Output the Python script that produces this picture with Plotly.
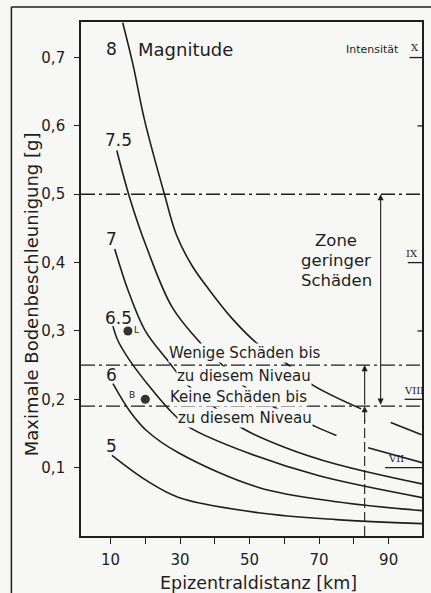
import plotly.graph_objects as go

# ---------------- data ----------------
magnitudes = ["8", "7.5", "7", "6.5", "6", "5"]

m8_x  = [13.5, 16.4, 19.8, 25.5, 29.0, 33.5, 38.4, 45.0, 52.1, 60.7, 67.5, 82.1, None, 90.6, 99.5]
m8_y  = [0.751, 0.691, 0.608, 0.500, 0.440, 0.395, 0.360, 0.318, 0.282, 0.252, 0.223, 0.186, None, 0.166, 0.148]

m75_x = [11.8, 15.5, 20.4, 27.8, 36.1, 41.8, 47.5, 55.5, 69.0, 75.0, None, 84.1, 99.8]
m75_y = [0.564, 0.495, 0.422, 0.334, 0.281, 0.252, 0.223, 0.193, 0.160, 0.147, None, 0.129, 0.107]

m7_x  = [11.2, 15.0, 20.0, 26.4, 31.8, 39.2, 47.8, 60.0, 75.0, 99.8]
m7_y  = [0.420, 0.360, 0.300, 0.257, 0.223, 0.191, 0.158, 0.130, 0.105, 0.076]

m65_x = [10.7, 12.1, 15.5, 21.8, 27.8, 32.7, 49.8, 70.0, 99.8]
m65_y = [0.307, 0.286, 0.257, 0.215, 0.180, 0.159, 0.121, 0.088, 0.056]

m6_x  = [10.7, 15.5, 20.4, 29.8, 52.6, 75.0, 99.8]
m6_y  = [0.223, 0.183, 0.154, 0.121, 0.071, 0.050, 0.037]

m5_x  = [10.4, 20.4, 29.8, 52.6, 75.0, 99.8]
m5_y  = [0.118, 0.081, 0.056, 0.034, 0.024, 0.018]

curves_x = [m8_x, m75_x, m7_x, m65_x, m6_x, m5_x]
curves_y = [m8_y, m75_y, m7_y, m65_y, m6_y, m5_y]

# damage levels [g]
level_zone_top = 0.50
level_few = 0.25
level_none = 0.19

# observation points
point_names = ["L", "B"]
point_x = [15.0, 20.0]
point_y = [0.30, 0.20]

# intensity scale (right side)
intensity_labels = ["X", "IX", "VIII", "VII"]
intensity_levels = [0.70, 0.40, 0.20, 0.10]
intensity_minor = [0.60, 0.30]

x_tickvals = [10, 20, 30, 40, 50, 60, 70, 80, 90]
x_ticktext = ["10", "", "30", "", "50", "", "70", "", "90"]
y_tickvals = [0.1, 0.2, 0.3, 0.4, 0.5, 0.6, 0.7]
y_ticktext = ["0,1", "0,2", "0,3", "0,4", "0,5", "0,6", "0,7"]

# ---------------- figure ----------------
BG = "#f7f7f5"
INK = "#1e1e1e"
FONT = "DejaVu Sans"

fig = go.Figure()

for cx, cy in zip(curves_x, curves_y):
    fig.add_trace(go.Scatter(x=cx, y=cy, mode="lines", line=dict(color=INK, width=1.6, shape="spline", smoothing=1.0),
                             connectgaps=False, hoverinfo="skip", showlegend=False))

fig.add_trace(go.Scatter(x=point_x, y=point_y, mode="markers",
                         marker=dict(color="#333333", size=9), showlegend=False, hoverinfo="skip"))

# dash-dot horizontal levels
for lv in [level_zone_top, level_few, level_none]:
    fig.add_shape(type="line", xref="paper", yref="y", x0=0, x1=1, y0=lv, y1=lv,
                  line=dict(color=INK, width=1.4, dash="14px,4px,3px,4px"))

XA = 87.7   # zone arrow
XB = 83.1   # small arrow / dashed line
# dashed vertical line below level_none
fig.add_shape(type="line", xref="x", yref="y", x0=XB, x1=XB, y0=0, y1=level_none - 0.02,
              line=dict(color=INK, width=1.1, dash="10px,4px"))

arrows = [
    (XA, level_zone_top, XA, level_none, "end+start"),
    (XB, level_few, XB, level_none, "end"),
    (XB, level_none, XB, level_none - 0.025, "end"),
]
for x1, y1, x0, y0, side in arrows:
    fig.add_annotation(x=x1, y=y1, ax=x0, ay=y0, xref="x", yref="y", axref="x", ayref="y",
                       text="", showarrow=True, arrowhead=2, arrowsize=1.1, arrowwidth=1.1,
                       arrowcolor=INK, arrowside=side)

# intensity ticks on right
for lv, lab in zip(intensity_levels, intensity_labels):
    x0 = {"X": 96.0, "IX": 95.5, "VIII": 94.6, "VII": 89.0}[lab]
    fig.add_shape(type="line", xref="x", yref="y", x0=x0, x1=99.6, y0=lv, y1=lv,
                  line=dict(color=INK, width=1.3))
for lv in intensity_minor:
    fig.add_shape(type="line", xref="x", yref="y", x0=98.3, x1=99.6, y0=lv, y1=lv,
                  line=dict(color=INK, width=1.3))

def txt(x, y, s, size=17, xanchor="center", yanchor="middle", bg=None, family=FONT):
    fig.add_annotation(x=x, y=y, xref="x", yref="y", text=s, showarrow=False,
                       font=dict(family=family, size=size, color=INK),
                       xanchor=xanchor, yanchor=yanchor,
                       bgcolor=bg if bg else "rgba(0,0,0,0)", borderpad=0)

# magnitude labels
mag_pos = {"8": (10.4, 0.712), "7.5": (12.4, 0.580), "7": (10.4, 0.435),
           "6.5": (12.4, 0.319), "6": (10.4, 0.235), "5": (10.4, 0.132)}
for m in magnitudes:
    px, py = mag_pos[m]
    txt(px, py, m, size=17)
txt(17.6, 0.712, "Magnitude", size=18, xanchor="left")

# intensity labels
txt(85.3, 0.712, "Intensität", size=11)
txt(97.6, 0.714, "X", size=10, family="DejaVu Serif")
txt(96.6, 0.414, "IX", size=10, family="DejaVu Serif")
txt(97.2, 0.213, "VIII", size=10, family="DejaVu Serif")
txt(92.0, 0.113, "VII", size=10, family="DejaVu Serif")

# zone text
txt(75.0, 0.432, "Zone", size=16.5)
txt(75.0, 0.403, "geringer", size=16.5)
txt(75.0, 0.374, "Schäden", size=16.5)

# damage level texts (background boxes hide curves behind)
txt(48.7, 0.268, "Wenige Schäden bis", size=15, bg=BG)
txt(48.4, 0.234, "zu diesem Niveau", size=15, bg=BG)
txt(46.7, 0.204, "Keine Schäden bis", size=15, bg=BG)
txt(48.7, 0.173, "zu diesem Niveau", size=15, bg=BG)

# point labels
txt(17.6, 0.302, "L", size=9)
txt(16.1, 0.207, "B", size=9)

# axis titles as annotations
fig.add_annotation(xref="paper", yref="paper", x=(31 - 81) / 343, y=(536 - 294) / 514,
                   text="Maximale Bodenbeschleunigung [g]", textangle=-90, showarrow=False,
                   font=dict(family=FONT, size=18, color=INK), xanchor="center", yanchor="middle")
fig.add_annotation(xref="paper", yref="paper", x=(260 - 81) / 343, y=(536 - 583) / 514,
                   text="Epizentraldistanz [km]", showarrow=False,
                   font=dict(family=FONT, size=17.5, color=INK), xanchor="center", yanchor="middle")

# outer frame of the figure
fig.add_shape(type="line", xref="paper", yref="paper", x0=(11 - 81) / 343, x1=(11 - 81) / 343,
              y0=(536 - 7) / 514, y1=(536 - 600) / 514, line=dict(color=INK, width=1.5))
fig.add_shape(type="line", xref="paper", yref="paper", x0=(11 - 81) / 343, x1=(440 - 81) / 343,
              y0=(536 - 7) / 514, y1=(536 - 7) / 514, line=dict(color=INK, width=1.5))

fig.update_layout(
    width=431, height=593,
    margin=dict(l=81, r=7, t=22, b=57),
    paper_bgcolor=BG, plot_bgcolor=BG,
    font=dict(family=FONT, color=INK),
    xaxis=dict(range=[1.5, 99.6], tickvals=x_tickvals, ticktext=x_ticktext, ticks="outside",
               ticklen=6, tickwidth=1.2, tickcolor=INK, showline=True, linecolor=INK, linewidth=1.6,
               mirror=True, showgrid=False, zeroline=False, ticklabelstandoff=3,
               tickfont=dict(family=FONT, size=15, color=INK)),
    yaxis=dict(range=[0, 0.752], tickvals=y_tickvals, ticktext=y_ticktext, ticks="outside",
               ticklen=5, tickwidth=1.2, tickcolor=INK, showline=True, linecolor=INK, linewidth=1.6,
               mirror=True, showgrid=False, zeroline=False, ticklabelstandoff=6,
               tickfont=dict(family=FONT, size=15, color=INK)),
)

fig.write_html("out.html", config={"displayModeBar": False},
               post_script="document.body.style.margin='0';document.body.style.overflow='hidden';")
